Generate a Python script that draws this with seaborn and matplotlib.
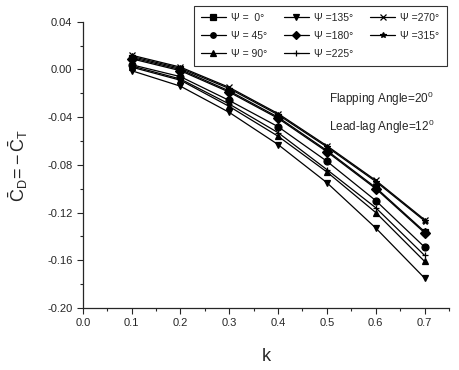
import pandas as pd
import seaborn as sns
import matplotlib
matplotlib.use("Agg")
import matplotlib.pyplot as plt
from matplotlib.ticker import MultipleLocator, FormatStrFormatter, FuncFormatter

# data
k = [0.1, 0.2, 0.3, 0.4, 0.5, 0.6, 0.7]
psi_labels = ["0", "45", "90", "135", "180", "225", "270", "315"]
cd_0 = [0.010, 0.000, -0.018, -0.040, -0.068, -0.099, -0.136]
cd_45 = [0.004, -0.006, -0.026, -0.048, -0.077, -0.110, -0.149]
cd_90 = [0.002, -0.009, -0.031, -0.056, -0.086, -0.120, -0.161]
cd_135 = [-0.001, -0.014, -0.036, -0.063, -0.095, -0.133, -0.175]
cd_180 = [0.009, -0.001, -0.019, -0.041, -0.069, -0.100, -0.137]
cd_225 = [0.003, -0.008, -0.029, -0.053, -0.084, -0.116, -0.156]
cd_270 = [0.012, 0.002, -0.015, -0.037, -0.064, -0.093, -0.126]
cd_315 = [0.011, 0.001, -0.016, -0.038, -0.065, -0.094, -0.127]
series = [cd_0, cd_45, cd_90, cd_135, cd_180, cd_225, cd_270, cd_315]
marker_list = ["s", "o", "^", "v", "D", "+", "x", "*"]
leg_labels = ["Ψ =  0°", "Ψ = 45°", "Ψ = 90°", "Ψ =135°", "Ψ =180°", "Ψ =225°", "Ψ =270°", "Ψ =315°"]

sns.set_style("ticks")
plt.rcParams["font.family"] = ["Liberation Sans", "DejaVu Sans"]
plt.rcParams["mathtext.fontset"] = "custom"
plt.rcParams["mathtext.rm"] = "Liberation Sans"
plt.rcParams["mathtext.it"] = "Liberation Sans:italic"

fig = plt.figure(figsize=(4.6, 3.7), dpi=100)
ax = fig.add_axes([0.180, 0.168, 0.796, 0.773])

for lab, vals, m, txt in zip(psi_labels, series, marker_list, leg_labels):
    sns.lineplot(x=k, y=vals, color="black", marker=m, linewidth=0.9,
                 markersize=5, markeredgecolor="black", markeredgewidth=0.9,
                 label=txt, ax=ax)

leg = ax.legend(ncol=3, fontsize=7.5, loc="upper right",
                bbox_to_anchor=(1.008, 1.075), frameon=True, fancybox=False,
                edgecolor="black", handlelength=2.4, handletextpad=0.5,
                columnspacing=1.6, labelspacing=0.75, borderpad=0.7)
leg.get_frame().set_linewidth(0.8)
for h in leg.legend_handles:
    h.set_markersize(4)

ax.text(0.505, -0.028, "Flapping Angle=20$^{\\mathrm{0}}$", fontsize=8.5)
ax.text(0.505, -0.052, "Lead-lag Angle=12$^{\\mathrm{0}}$", fontsize=8.5)

ax.set_xlim(0.0, 0.75)
ax.set_ylim(-0.20, 0.04)
ax.xaxis.set_major_locator(MultipleLocator(0.1))
ax.xaxis.set_minor_locator(MultipleLocator(0.05))
ax.yaxis.set_major_locator(MultipleLocator(0.04))
ax.yaxis.set_minor_locator(MultipleLocator(0.02))
ax.xaxis.set_major_formatter(FormatStrFormatter("%.1f"))
ax.yaxis.set_major_formatter(FuncFormatter(lambda v, p: f"{v:.2f}".replace("-0.00", "0.00")))
ax.tick_params(axis="both", which="major", labelsize=8, length=4, width=0.8, direction="out")
ax.tick_params(axis="both", which="minor", length=2, width=0.8, direction="out")
for s in ["top", "right"]:
    ax.spines[s].set_visible(False)
for s in ["left", "bottom"]:
    ax.spines[s].set_linewidth(0.9)

ax.set_xlabel("k", fontsize=13, labelpad=14)
ax.set_ylabel(r"$\mathrm{\bar{C}_D\!=\!-\bar{C}_T}$", fontsize=13, labelpad=12)

fig.savefig("out.png", dpi=100)
